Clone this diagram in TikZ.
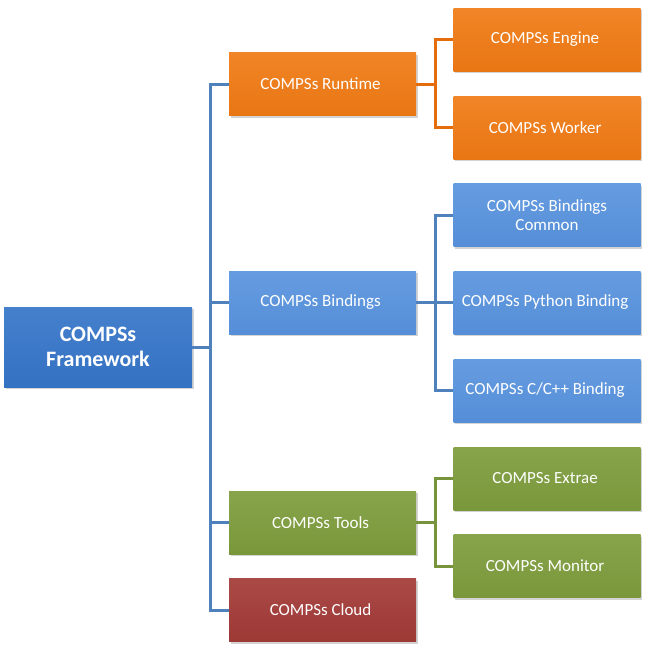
\documentclass[tikz,border=0pt]{standalone}
\usepackage{fontspec}
\setmainfont{Carlito}
\usepackage{tikz}
\usetikzlibrary{shadows}

\definecolor{fwblue}{HTML}{3575C8}
\definecolor{ltblue}{HTML}{5893DE}
\definecolor{orng}{HTML}{F07A14}
\definecolor{grn}{HTML}{7D9C3C}
\definecolor{rd}{HTML}{A23A37}
\definecolor{lnblue}{HTML}{4F81BD}
\definecolor{lnorng}{HTML}{E46C0A}
\definecolor{lngrn}{HTML}{77933C}

\tikzset{
	box/.style={ rectangle, minimum width=187pt, minimum height=63pt, inner sep=2pt,
		text=white, align=center, font=\fontsize{17}{18.5}\selectfont,
		drop shadow={shadow xshift=1.5pt, shadow yshift=-2pt, opacity=0.35} },
	fill box/.style={ top color=#1!92!white, middle color=#1, bottom color=#1!97!black },
	link/.style={ line width=3pt }
}

\begin{document}
\begin{tikzpicture}[ x=1pt, y=-1pt ]
	\useasboundingbox (0,0) rectangle (650,654);
	\node [ box, fill box=fwblue, minimum width=188pt, minimum height=80pt,
		font=\fontsize{22}{25}\selectfont\bfseries ] (1) at (98,347)
		{ COMPSs\\Framework };
	\node [ box, fill box=orng ] (2) at (322.5,84) { COMPSs Runtime };
	\node [ box, fill box=ltblue ] (3) at (322.5,302.5) { COMPSs Bindings };
	\node [ box, fill box=grn ] (4) at (322.5,522.5) { COMPSs Tools };
	\node [ box, fill box=rd ] (5) at (322.5,610) { COMPSs Cloud };
	\node [ box, fill box=orng ] (6) at (547,39.5) { COMPSs Engine };
	\node [ box, fill box=orng ] (7) at (547,127.5) { COMPSs Worker };
	\node [ box, fill box=ltblue ] (8) at (547,215) { COMPSs Bindings\\Common };
	\node [ box, fill box=ltblue ] (9) at (547,302.5) { COMPSs Python Binding };
	\node [ box, fill box=ltblue ] (10) at (547,390.5) { COMPSs C/C++ Binding };
	\node [ box, fill box=grn ] (11) at (547,478.5) { COMPSs Extrae };
	\node [ box, fill box=grn ] (12) at (547,566) { COMPSs Monitor };
	\foreach \c in {2,3,4,5}
		\draw [ link, lnblue ] (1.east) -- ++(18,0) |- (\c);
	\foreach \c in {6,7}
		\draw [ link, lnorng ] (2.east) -- ++(19,0) |- (\c);
	\foreach \c in {8,9,10}
		\draw [ link, lnblue ] (3.east) -- ++(19,0) |- (\c);
	\foreach \c in {11,12}
		\draw [ link, lngrn ] (4.east) -- ++(19,0) |- (\c);
\end{tikzpicture}
\end{document}
